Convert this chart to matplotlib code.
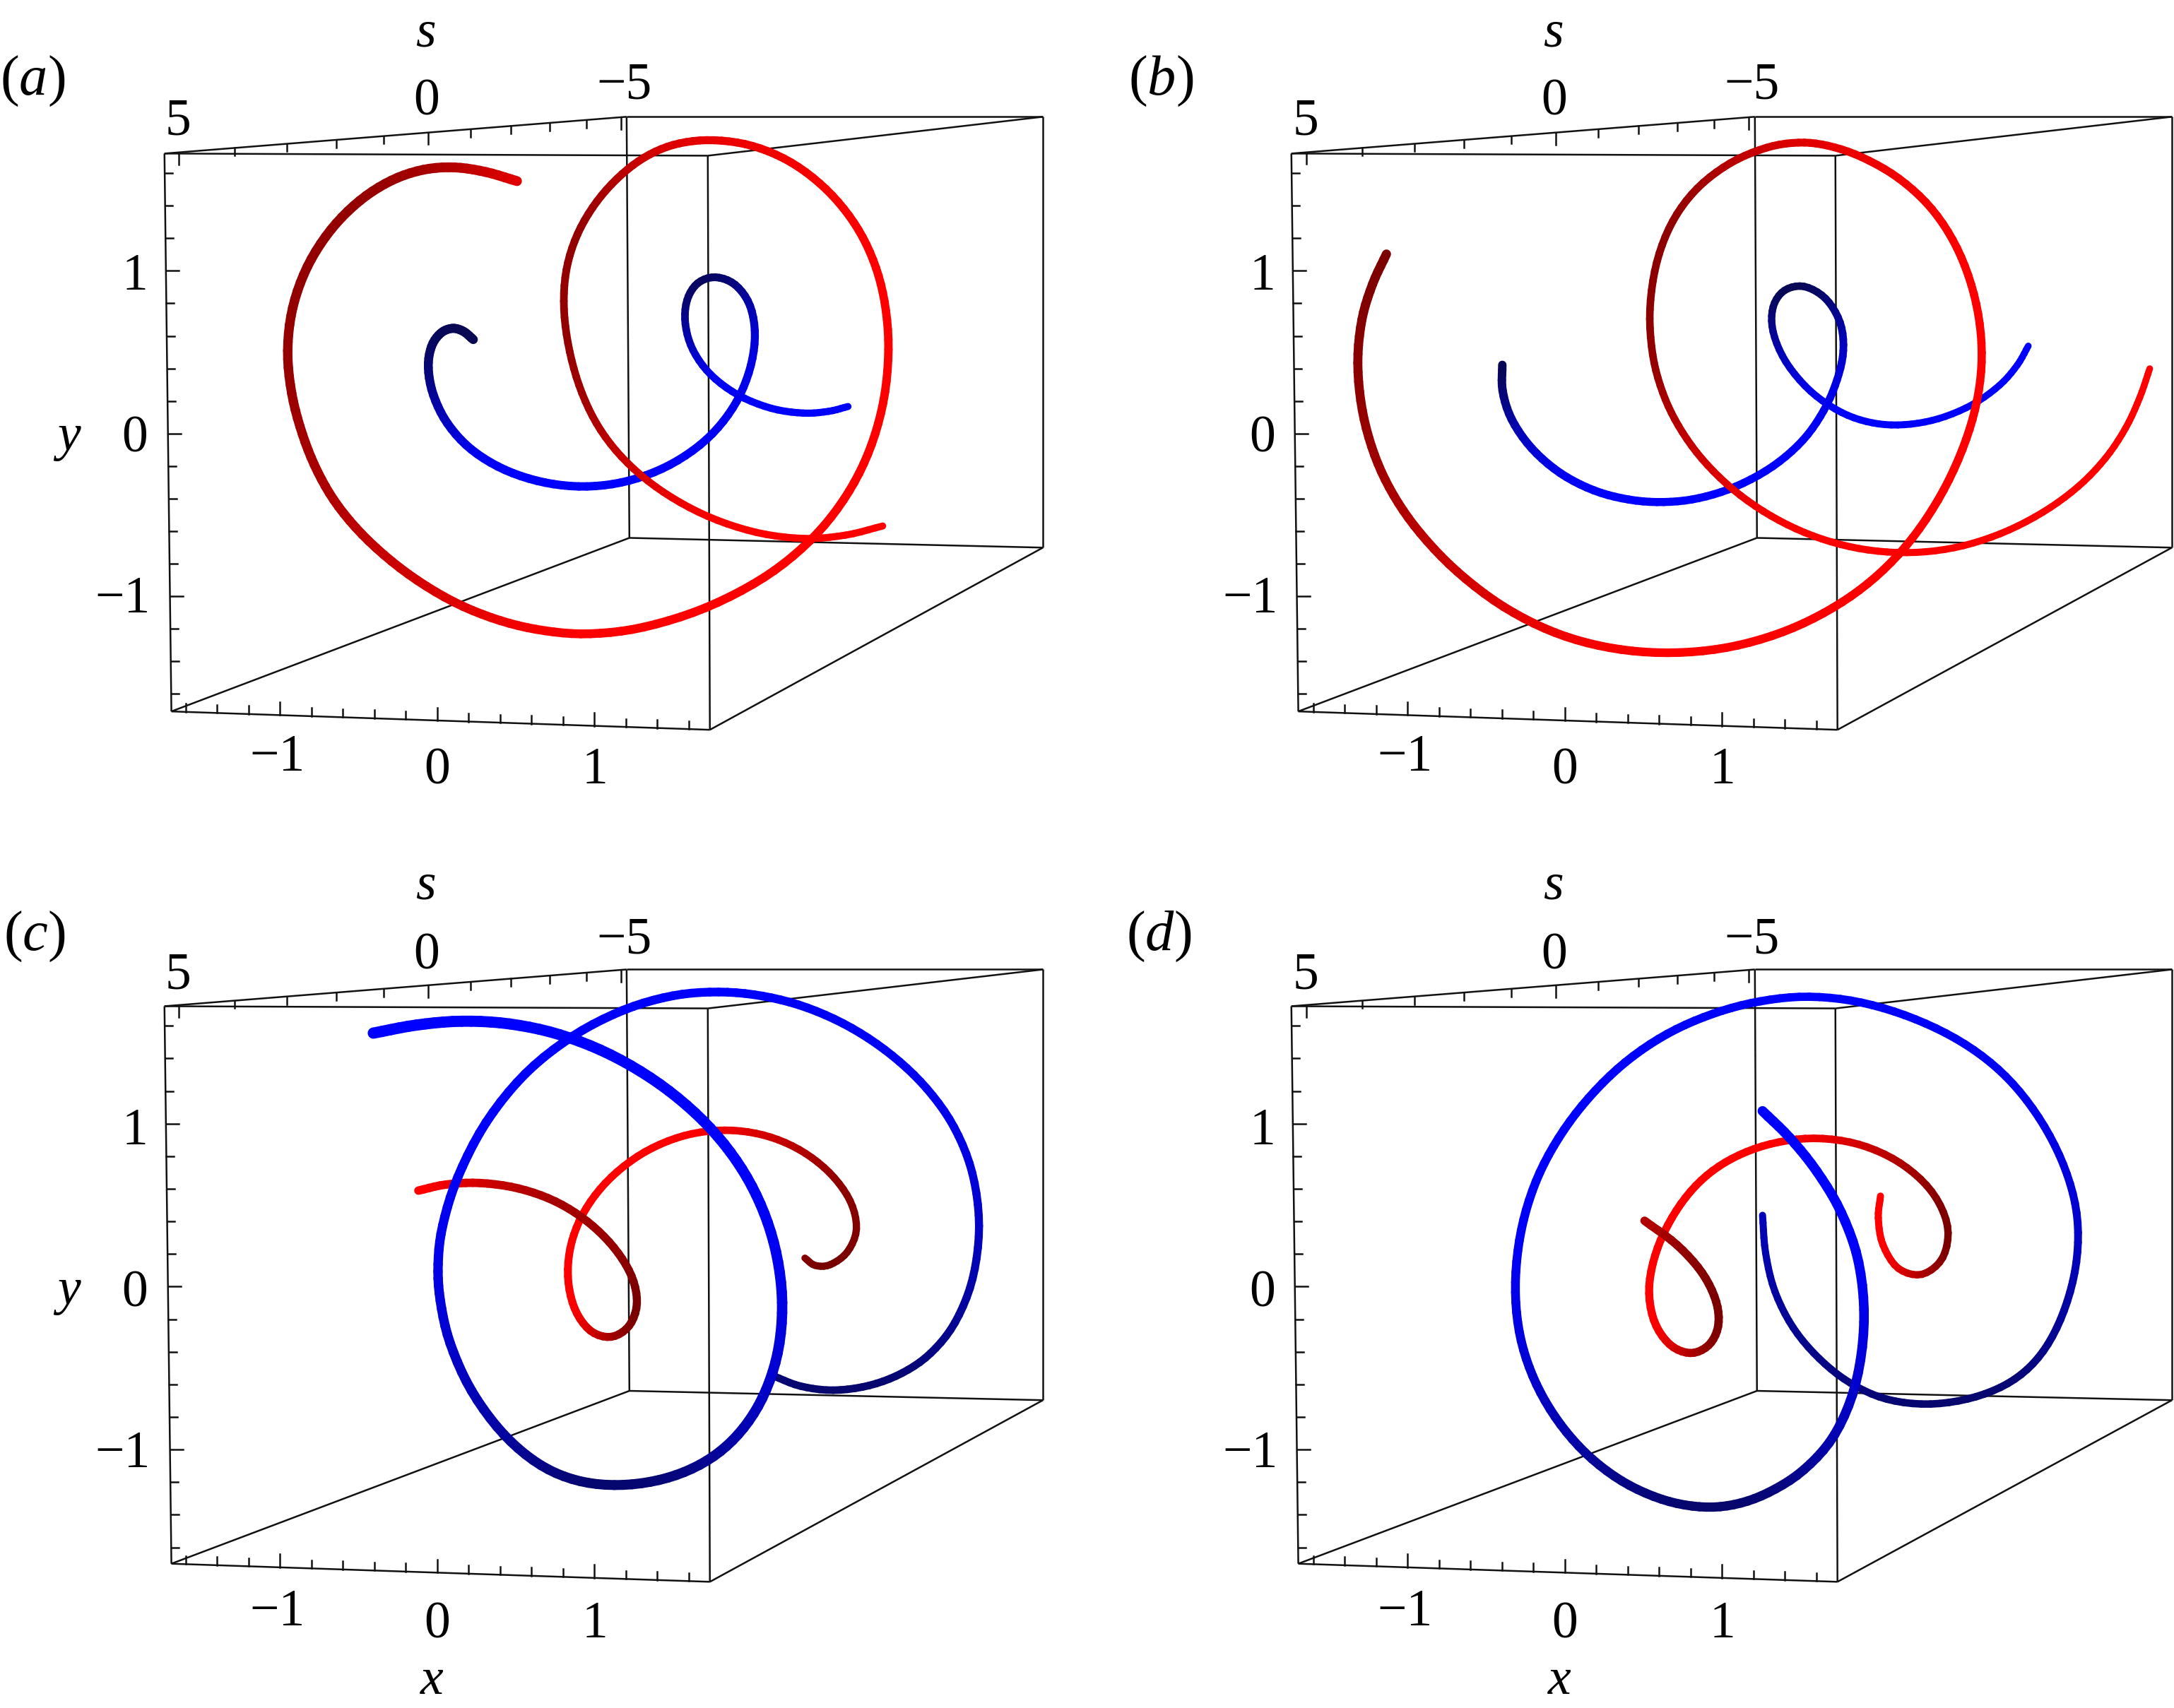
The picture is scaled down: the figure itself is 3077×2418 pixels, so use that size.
import numpy as np
import matplotlib
matplotlib.use("Agg")
import matplotlib.pyplot as plt
from matplotlib.collections import LineCollection

plt.rcParams['font.family'] = ['Liberation Serif', 'DejaVu Serif']
plt.rcParams['mathtext.fontset'] = 'custom'
plt.rcParams['mathtext.rm'] = 'Liberation Serif'
plt.rcParams['mathtext.it'] = 'Liberation Serif:italic'

# --- axis tick values ---
y_minor = [-1.6,-1.4,-1.2,-0.8,-0.6,-0.4,-0.2,0.2,0.4,0.6,0.8,1.2,1.4,1.6]
y_major = [-1,0,1]
x_minor = [-1.6,-1.4,-1.2,-0.8,-0.6,-0.4,-0.2,0.2,0.4,0.6,0.8,1.2,1.4,1.6]
x_major = [-1,0,1]
s_minor = [4,3,2,1,-1,-2,-3,-4]
s_major = [5,0,-5]

# --- curves: (horizontal, vertical, darkness) ---
A_RED = [(745,335,.2),(700,317,.35),(655,310,.5),(610,315,.6),(565,333,.65),(518,372,.7),(478,425,.7),(442,493,.7),(422,570,.7),(415,650,.7),(420,725,.65),(437,805,.6),(460,875,.55),(487,935,.5),(530,1000,.4),(590,1062,.3),(655,1115,.2),(720,1148,.1),(790,1165,.05),(850,1170,0),(920,1163,0),(1020,1125,0),(1105,1065,0),(1165,1000,0),(1215,925,0),(1250,840,0),(1272,750,0),(1282,640,0),(1272,560,0),(1258,480,0),(1232,415,.03),(1190,350,.05),(1140,300,.08),(1085,270,.1),(1030,260,.15),(975,267,.22),(940,285,.3),(897,322,.45),(860,372,.65),(832,435,.7),(817,500,.7),(812,570,.7),(822,650,.7),(840,730,.6),(865,795,.5),(905,855,.3),(955,910,.15),(1020,955,.05),(1090,985,0),(1160,997,0),(1220,990,0),(1272,973,0)]
A_BLUE = [(682,628,1),(668,612,1),(653,607,1),(635,617,.95),(622,640,.9),(617,680,.8),(625,730,.6),(645,785,.3),(680,830,.1),(725,870,0),(790,893,0),(845,898,0),(905,890,0),(965,860,0),(1020,812,.05),(1055,755,.1),(1078,690,.15),(1088,625,.25),(1082,565,.5),(1060,527,.8),(1030,512,.9),(1005,525,.9),(990,555,.8),(988,600,.6),(1000,650,.3),(1022,690,.1),(1065,733,0),(1110,755,0),(1160,765,0),(1195,760,0),(1222,752,0)]
B_RED = [(430,470,.85),(410,525,.85),(395,590,.8),(388,670,.75),(395,760,.7),(415,845,.65),(440,915,.55),(480,985,.45),(530,1055,.3),(600,1125,.2),(675,1170,.1),(750,1197,.05),(835,1207,0),(920,1198,0),(1000,1170,0),(1075,1122,0),(1135,1065,0),(1185,1000,0),(1235,905,0),(1265,810,0),(1283,720,0),(1287,640,0),(1278,545,0),(1250,455,.02),(1217,390,.05),(1170,330,.08),(1115,290,.12),(1060,270,.18),(1028,267,.22),(980,272,.3),(925,300,.5),(875,352,.65),(845,410,.7),(820,480,.75),(808,575,.75),(815,660,.7),(830,725,.6),(850,785,.45),(885,850,.3),(930,905,.15),(985,955,.05),(1045,990,0),(1110,1015,0),(1180,1022,0),(1250,1012,0),(1310,990,0),(1380,945,0),(1425,900,0),(1465,850,0),(1497,790,0),(1515,735,0),(1530,682,0)]
B_BLUE = [(597,675,1),(595,720,.85),(610,775,.5),(640,830,.25),(680,875,.1),(730,908,0),(780,923,0),(830,928,0),(880,920,0),(930,903,0),(990,860,0),(1030,815,.05),(1060,760,.1),(1078,700,.2),(1088,650,.35),(1085,600,.6),(1065,552,.85),(1030,525,1),(1003,540,.95),(988,570,.85),(987,610,.65),(1005,670,.3),(1040,725,.1),(1090,765,0),(1130,780,0),(1175,785,0),(1225,775,0),(1275,750,0),(1315,710,0),(1340,675,0),(1355,640,0)]
C_BLUE = [(538,338,0),(600,322,0),(665,317,0),(735,322,0),(805,340,0),(880,378,0),(950,430,0),(1015,500,0),(1060,570,0),(1095,650,.05),(1118,735,.1),(1127,830,.15),(1120,920,.25),(1100,1005,.35),(1060,1070,.5),(1020,1115,.65),(965,1148,.8),(895,1162,.85),(835,1152,.8),(780,1125,.7),(730,1075,.55),(675,985,.4),(650,905,.3),(635,820,.2),(633,760,.15),(640,690,.1),(655,610,.05),(705,490,0),(755,415,0),(825,345,0),(900,295,0),(970,270,0),(1035,265,0),(1100,272,0),(1160,290,.05),(1230,330,.05),(1285,380,.08),(1335,440,.1),(1375,510,.15),(1400,590,.2),(1412,690,.35),(1402,785,.5),(1375,870,.65),(1340,920,.75),(1300,955,.8),(1255,980,.85),(1200,990,.85),(1150,982,.85),(1115,963,.8)]
C_RED = [(603,625,0),(640,614,.1),(690,610,.3),(750,622,.5),(800,645,.6),(845,680,.6),(885,730,.7),(910,780,.8),(918,830,.9),(908,870,.8),(880,895,.6),(850,880,.2),(828,840,0),(818,780,0),(825,715,0),(845,660,0),(880,600,0),(930,555,0),(985,525,0),(1045,515,.1),(1100,525,.3),(1150,550,.5),(1195,590,.7),(1225,645,.8),(1235,695,.8),(1225,735,.85),(1190,765,.9),(1175,760,.85),(1160,748,.8)]
D_BLUE = [(972,480,0),(1010,525,0),(1050,590,0),(1085,670,0),(1110,750,.05),(1120,860,.15),(1105,985,.3),(1075,1070,.45),(1035,1130,.65),(975,1178,.8),(930,1195,.85),(885,1200,.85),(825,1188,.8),(770,1155,.7),(715,1100,.55),(675,1040,.4),(640,960,.3),(622,880,.15),(616,800,.1),(625,690,.05),(645,610,0),(680,530,0),(720,458,0),(775,390,0),(835,340,0),(900,303,0),(970,282,0),(1040,272,0),(1110,280,0),(1195,315,.03),(1265,360,.05),(1320,415,.08),(1370,490,.12),(1405,580,.2),(1425,670,.3),(1425,745,.4),(1405,850,.6),(1375,920,.7),(1335,965,.8),(1285,1000,.85),(1210,1015,.85),(1150,1005,.8),(1100,975,.75),(1055,930,.7),(1015,875,.65),(990,810,.55),(975,735,.45),(972,670,.4)]
D_RED = [(802,680,.5),(850,720,.7),(885,775,.8),(905,830,.85),(908,870,.85),(895,905,.75),(868,925,.5),(838,905,.15),(815,860,0),(808,800,0),(820,730,0),(850,660,0),(885,605,0),(925,570,0),(985,540,0),(1045,530,.1),(1110,540,.3),(1170,575,.55),(1215,625,.75),(1240,690,.85),(1235,745,.85),(1200,783,.5),(1165,770,.1),(1145,720,0),(1138,670,0),(1142,635,0)]

BRIGHT = {'r': np.array([1.0,0,0]), 'b': np.array([0,0,1.0])}
DARK = {'r': np.array([.40,0,0]), 'b': np.array([.03,.03,.33])}

PANELS = [
 dict(label='a', rect=(0,0,1540,1200), xlim=1568, ylim=1568, dx=0,
      fl=(237,284,1020,288,1023,1350,247,1316), bk=(903,216,1503,216,1503,1013,907,995),
      xy0=802, yu=301, xtl=1402, xt0=1426, stl=(226,189,159), sl=62, yl=812, ytl=(513,813,1110), xl=None, lab=(47,150),
      curves=[('b',A_BLUE,13,10),('r',A_RED,14,10)]),
 dict(label='b', rect=(1540,0,1537,1200), xlim=1565, ylim=1568, dx=57,
      fl=(293,284,1077,288,1080,1350,303,1316), bk=(961,216,1562,216,1562,1013,964,995),
      xy0=802, yu=301, xtl=1402, xt0=1426, stl=(226,189,159), sl=62, yl=None, ytl=(513,813,1110), xl=None, lab=(105,150),
      curves=[('b',B_BLUE,12,9.5),('r',B_RED,13,9.5)]),
 dict(label='c', rect=(0,1200,1540,1218), xlim=1568, ylim=1568, dx=0,
      fl=(237,289,1020,293,1023,1338,247,1305), bk=(903,222,1503,222,1503,1007,907,990),
      xy0=800, yu=297, xtl=1394, xt0=1417, stl=(234,198,169), sl=70, yl=812, ytl=(518,813,1106), xl=1520, lab=(50,162),
      curves=[('r',C_RED,12,10),('b',C_BLUE,16,10.5)]),
 dict(label='d', rect=(1540,1200,1537,1218), xlim=1565, ylim=1568, dx=57,
      fl=(293,289,1077,293,1080,1338,303,1305), bk=(961,222,1562,222,1562,1007,964,990),
      xy0=800, yu=297, xtl=1394, xt0=1417, stl=(234,198,169), sl=70, yl=None, ytl=(518,813,1106), xl=1520, lab=(102,162),
      curves=[('r',D_RED,12,10),('b',D_BLUE,14,10)]),
]

W, H = 3077, 2418
fig = plt.figure(figsize=(W/100, H/100), dpi=100, facecolor='white')
FS = 53
LW = 1.8
INK = '#111111'

def s_to_x(s):
    return (617 - 78.4*s) / (1 - 0.02543*s)

def denoise(p, lam=0.5, mu=-0.52, n=3):
    # Taubin fairing: evens out reading noise without shrinking the loops
    q = p.copy()
    for _ in range(n):
        for f in (lam, mu):
            L = np.zeros_like(q)
            L[1:-1] = (q[:-2] + q[2:]) / 2 - q[1:-1]
            q = q + f * L
    return q

def smooth(p, k=5):
    # Catmull-Rom rendering of the read polyline (all columns)
    q = np.vstack([2*p[0]-p[1], p, 2*p[-1]-p[-2]])
    out = []
    for i in range(1, len(q)-2):
        for t in np.linspace(0, 1, k, endpoint=False):
            out.append(0.5*((2*q[i]) + (q[i+1]-q[i-1])*t
                       + (2*q[i-1]-5*q[i]+4*q[i+1]-q[i+2])*t*t
                       + (3*q[i]-q[i-1]-3*q[i+1]+q[i+2])*t**3))
    out.append(p[-1])
    return np.array(out)

def draw_curve(ax, kind, pts, w0, w1):
    p = smooth(denoise(np.array(pts, dtype=float)))
    xy = p[:, :2]
    shade = np.clip(p[:, 2], 0, 1)
    seg = np.stack([xy[:-1], xy[1:]], axis=1)
    sh = (shade[:-1] + shade[1:]) / 2
    cols = [BRIGHT[kind]*(1-v) + DARK[kind]*v for v in sh]
    widths = np.linspace(w0, w1, len(seg)) * 0.72
    lc = LineCollection(seg[::-1], colors=cols[::-1], linewidths=widths[::-1],
                        capstyle='round', joinstyle='round', zorder=3, clip_on=False)
    ax.add_collection(lc)

for P in PANELS:
    l, t, w, h = P['rect']
    ax = fig.add_axes([l/W, 1-(t+h)/H, w/W, h/H])
    ax.set_xlim(0, P['xlim']); ax.set_ylim(P['ylim'], 0)
    ax.axis('off')
    f, b = P['fl'], P['bk']
    dx = P['dx']
    F = np.array(f).reshape(4, 2); B = np.array(b).reshape(4, 2)
    for i in range(4):
        j = (i+1) % 4
        ax.plot(F[[i,j],0], F[[i,j],1], color=INK, lw=LW, zorder=1, clip_on=False, solid_capstyle='butt')
        ax.plot(B[[i,j],0], B[[i,j],1], color=INK, lw=LW, zorder=1, clip_on=False, solid_capstyle='butt')
        ax.plot([F[i,0],B[i,0]], [F[i,1],B[i,1]], color=INK, lw=LW, zorder=1, clip_on=False, solid_capstyle='butt')

    # vertical axis ticks on the front left edge
    TL, BL = F[0], F[3]
    def yedge(v):
        py = P['xy0'] - P['yu']*v
        px = BL[0] + (TL[0]-BL[0])*(py-BL[1])/(TL[1]-BL[1])
        return px, py
    for vals, ln in ((y_minor, 11), (y_major, 19)):
        for v in vals:
            px, py = yedge(v)
            ax.plot([px, px+ln], [py, py], color=INK, lw=LW, zorder=1)

    # horizontal axis ticks on the front bottom edge
    BR = F[2]
    def xedge(v):
        px = 630 + dx + 226.5*v
        py = BL[1] + (BR[1]-BL[1])*(px-BL[0])/(BR[0]-BL[0])
        return px, py
    for vals, ln in ((x_minor, 15), (x_major, 24)):
        for v in vals:
            px, py = xedge(v)
            ax.plot([px, px], [py, py-ln], color=INK, lw=LW, zorder=1)

    # depth axis ticks on the top left edge
    BTL = B[0]
    def sedge(v):
        px = s_to_x(v) + dx
        py = TL[1] + (BTL[1]-TL[1])*(px-TL[0])/(BTL[0]-TL[0])
        return px, py
    for vals, ln in ((s_minor, 14), (s_major, 22)):
        for v in vals:
            px, py = sedge(v)
            ax.plot([px, px], [py, py+ln], color=INK, lw=LW, zorder=1)

    for kind, pts, w0, w1 in P['curves']:
        draw_curve(ax, kind, pts, w0, w1)

    tk = dict(fontsize=FS, ha='center', va='center', color='black')
    sx = (257+dx, 615+dx, 900+dx)
    for x, yy, lab in zip(sx, P['stl'], ['5', '0', '\u22125']):
        ax.text(x, yy, lab, **tk)
    ax.text(613+dx, P['sl'], r'$s$', **tk)
    for x, yy, lab in zip((195+dx-1, 195+dx-1, 177+dx), P['ytl'], ['1', '0', '\u22121']):
        ax.text(x, yy, lab, **tk)
    for x, yy, lab in zip((400+dx, 630+dx, 857+dx), (P['xtl'], P['xt0'], P['xt0']), ['\u22121', '0', '1']):
        ax.text(x, yy, lab, **tk)
    if P['yl'] is not None:
        ax.text(97, P['yl'], r'$y$', **tk)
    if P['xl'] is not None:
        ax.text(623+dx, P['xl'], r'$x$', **tk)
    ax.text(P['lab'][0], P['lab'][1], '($%s$)' % P['label'], fontsize=FS+5, ha='center', va='center')

fig.savefig('out.png', dpi=100)
